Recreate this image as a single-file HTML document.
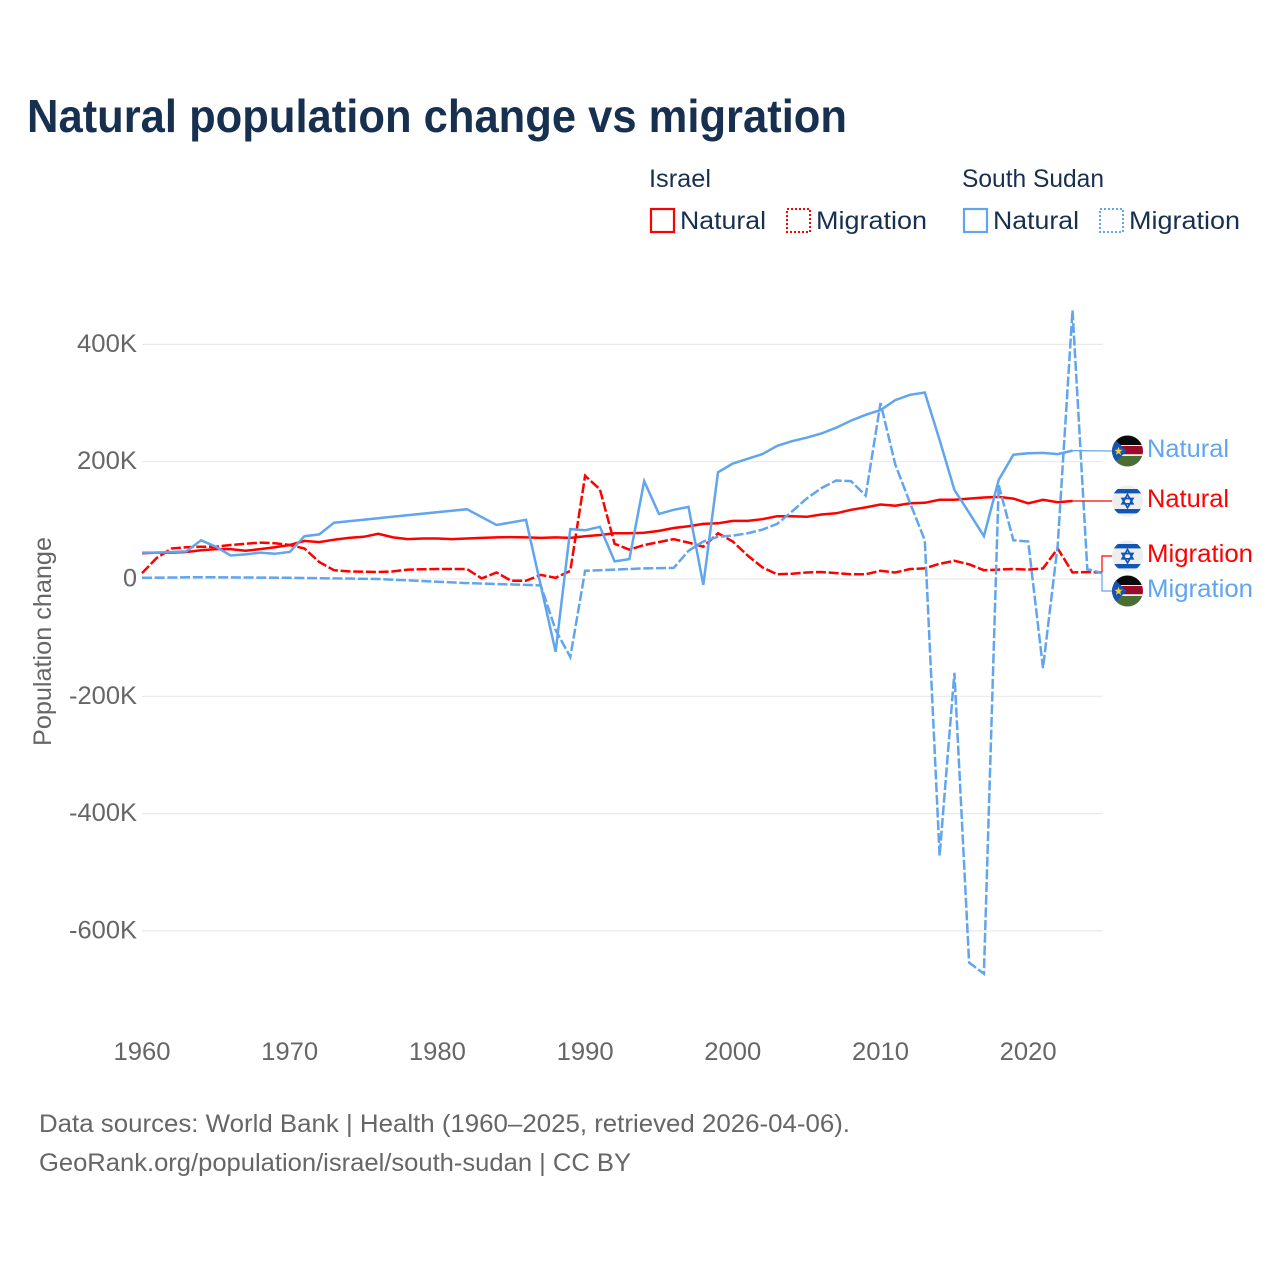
<!DOCTYPE html>
<html lang="en">
<head>
<meta charset="utf-8">
<title>Natural population change vs migration</title>
<style>
html,body{margin:0;padding:0;background:#fff;}
svg{display:block;font-family:"Liberation Sans",sans-serif;}
</style>
</head>
<body>
<svg id="chart" xmlns="http://www.w3.org/2000/svg" width="1280" height="1280" viewBox="0 0 1280 1280">
  <defs>
    <clipPath id="flag-clip"><circle cx="0" cy="0" r="15.5"/></clipPath>
    <g id="flag-il">
      <g clip-path="url(#flag-clip)">
        <rect x="-16" y="-16" width="32" height="32" fill="#eeeeee"/>
        <rect x="-16" y="-12" width="32" height="4.4" fill="#0f56b5"/>
        <rect x="-16" y="8" width="32" height="4.4" fill="#0f56b5"/>
        <polygon points="0,-6.5 5.4,2.8 -5.4,2.8" fill="none" stroke="#0f56b5" stroke-width="1.7"/>
        <polygon points="0,6.8 5.4,-2.5 -5.4,-2.5" fill="none" stroke="#0f56b5" stroke-width="1.7"/>
      </g>
    </g>
    <g id="flag-ss">
      <g clip-path="url(#flag-clip)">
        <rect x="-16" y="-16" width="32" height="10" fill="#0a0a0a"/>
        <rect x="-16" y="-6" width="32" height="11" fill="#eeeeee"/>
        <rect x="-16" y="-5" width="32" height="8.2" fill="#9c0a2c"/>
        <rect x="-16" y="5" width="32" height="11" fill="#4a6d33"/>
        <polygon points="-16,-15 -16,15 -1,0" fill="#0f56b5"/>
        <polygon points="-9,-4.2 -7.9,-1.2 -4.8,-1.2 -7.3,0.8 -6.4,3.9 -9,2.1 -11.6,3.9 -10.7,0.8 -13.2,-1.2 -10.1,-1.2" fill="#f2cf3d"/>
      </g>
    </g>
  </defs>

  <text x="27" y="132" font-size="46" font-weight="700" fill="#18304f" textLength="820" lengthAdjust="spacingAndGlyphs">Natural population change vs migration</text>

  <g font-size="25" fill="#18304f">
    <text x="649" y="187" textLength="62" lengthAdjust="spacingAndGlyphs">Israel</text>
    <text x="962" y="187" textLength="142" lengthAdjust="spacingAndGlyphs">South Sudan</text>

    <g>
      <rect x="651" y="209" width="23" height="23" fill="none" stroke="#ff0000" stroke-width="2.2"/>
      <text x="680" y="229" textLength="86" lengthAdjust="spacingAndGlyphs">Natural</text>
    </g>
    <g>
      <rect x="787" y="209" width="23" height="23" fill="none" stroke="#ff0000" stroke-width="2" stroke-dasharray="2 2"/>
      <text x="816" y="229" textLength="111" lengthAdjust="spacingAndGlyphs">Migration</text>
    </g>
    <g>
      <rect x="964" y="209" width="23" height="23" fill="none" stroke="#60a5ee" stroke-width="2.2"/>
      <text x="993" y="229" textLength="86" lengthAdjust="spacingAndGlyphs">Natural</text>
    </g>
    <g>
      <rect x="1100" y="209" width="23" height="23" fill="none" stroke="#60a5ee" stroke-width="2" stroke-dasharray="2 2"/>
      <text x="1129" y="229" textLength="111" lengthAdjust="spacingAndGlyphs">Migration</text>
    </g>
  </g>

  <g id="grid"></g>
  <g id="y-ticks"></g>
  <g id="x-ticks"></g>
  <text transform="translate(51,746) rotate(-90)" font-size="25" fill="#666666" textLength="209" lengthAdjust="spacingAndGlyphs">Population change</text>

  <g id="series"></g>
  <g id="end-labels"></g>

  <g font-size="25" fill="#666666">
    <text x="39" y="1132" textLength="811" lengthAdjust="spacingAndGlyphs">Data sources: World Bank | Health (1960–2025, retrieved 2026-04-06).</text>
    <text x="39" y="1171" textLength="592" lengthAdjust="spacingAndGlyphs">GeoRank.org/population/israel/south-sudan | CC BY</text>
  </g>
</svg>

<script>
var firstYear = 1960;
var yTickValues = [400, 200, 0, -200, -400, -600];
var yTickLabels = ["400K", "200K", "0", "-200K", "-400K", "-600K"];
var xTickValues = [1960, 1970, 1980, 1990, 2000, 2010, 2020];

/* Values in thousands, one entry per year from 1960 to 2025; null = no point */
var israelNatural = [44,45,45,46,49,51,51,48,51,54,58,65,63,67,70,72,77,71,68,69,69,68,69,70,71,71.5,71,70,71,70,73,75,78,78,79,82,87,90,94,95,99,99,102,107,107,106,110,112,118,122,127,125,129,130,135,135,137,139,140,137,129,135,131,133,null,null];
var israelMigration = [10,36,52,54,55,55,58,60,62,61,58,52,29,15,13,12.5,12,13,16,16.5,17,17,17,1,11,-3,-3,7,2,14,176,153,60,50,58,63,68,62,55,78,64,40,20,8,9,11,12,10,8,8,14,11,17,18,26,31,25,15,16,17,16,18,52,11,12,11];
var sudanNatural = [45,45,46,47,66,55,40,42,45,43,46,73,76,96,null,null,null,null,null,null,null,null,119,null,92,null,101,null,-124,85,83,89,30,34,167,111,118,123,-10,182,197,205,213,227,235,241,248,258,270,280,288,305,314,318,237,152,113,73,169,212,214.5,215,213,219,null,null];
var sudanMigration = [2,null,null,null,3,null,null,null,null,null,2,null,null,null,null,null,0,null,null,null,null,null,-7,null,null,null,-10,-11,-87,-133,14,15,16,17,18,18.5,19,48,64,72,74,78,84,94,115,137,155,168,167,142,300,195,130,66,-472,-160,-654,-673,160,66,64,-152,58,458,17,10];

var endLabelText = ["Natural", "Natural", "Migration", "Migration"];

var SVG_NS = "http://www.w3.org/2000/svg";
var RED = "#ff0000";
var BLUE = "#60a5ee";

function xScale(year) { return 142 + (year - firstYear) * 14.77; }
function yScale(value) { return 579 - value * 0.5865; }
function make(tag) { return document.createElementNS(SVG_NS, tag); }

function seriesPoints(values) {
  var pts = [];
  for (var i = 0; i < values.length; i++) {
    if (values[i] !== null) { pts.push([xScale(firstYear + i), yScale(values[i])]); }
  }
  return pts;
}
function pointsToPath(pts) {
  return pts.map(function (p, i) { return (i ? "L" : "M") + p[0].toFixed(1) + " " + p[1].toFixed(1); }).join(" ");
}

var gridGroup = document.getElementById("grid");
var yTickGroup = document.getElementById("y-ticks");
yTickValues.forEach(function (v, i) {
  var line = make("line");
  
  
  line.setAttribute("x1", 142);
  line.setAttribute("x2", 1103);
  line.setAttribute("y1", yScale(v));
  line.setAttribute("y2", yScale(v));
  line.setAttribute("stroke", "#e9e9e9");
  line.setAttribute("stroke-width", "1.2");
  gridGroup.appendChild(line);

  var label = make("text");
  
  
  var txt = yTickLabels[i];
  var w = txt === "0" ? 14 : (txt.charAt(0) === "-" ? 68 : 60);
  label.setAttribute("x", 137 - w);
  label.setAttribute("y", yScale(v) + 7.5);
  label.setAttribute("font-size", "25");
  label.setAttribute("fill", "#666666");
  label.setAttribute("textLength", w);
  label.setAttribute("lengthAdjust", "spacingAndGlyphs");
  label.textContent = txt;
  yTickGroup.appendChild(label);
});

var xTickGroup = document.getElementById("x-ticks");
xTickValues.forEach(function (year) {
  var label = make("text");
  
  
  label.setAttribute("x", xScale(year) - 28.5);
  label.setAttribute("y", 1060);
  label.setAttribute("font-size", "25");
  label.setAttribute("fill", "#666666");
  label.setAttribute("textLength", 57);
  label.setAttribute("lengthAdjust", "spacingAndGlyphs");
  label.textContent = String(year);
  xTickGroup.appendChild(label);
});

var seriesGroup = document.getElementById("series");
function drawSeries(values, color, dashed, name) {
  var path = make("path");
  
  
  path.setAttribute("d", pointsToPath(seriesPoints(values)));
  path.setAttribute("fill", "none");
  path.setAttribute("stroke", color);
  path.setAttribute("stroke-width", "2.5");
  path.setAttribute("stroke-linejoin", "miter");
  if (dashed) { path.setAttribute("stroke-dasharray", "10 2.7"); }
  seriesGroup.appendChild(path);
}
drawSeries(israelNatural, RED, false, "line-israel-natural");
drawSeries(israelMigration, RED, true, "line-israel-migration");
drawSeries(sudanNatural, BLUE, false, "line-south-sudan-natural");
drawSeries(sudanMigration, BLUE, true, "line-south-sudan-migration");

var labelGroup = document.getElementById("end-labels");
function drawEndLabel(values, color, flagId, labelY, text, name) {
  var pts = seriesPoints(values);
  var last = pts[pts.length - 1];
  var elbowX = 1102;
  var d = "M" + last[0].toFixed(1) + " " + last[1].toFixed(1);
  if (Math.abs(last[1] - labelY) > 2) {
    d += " L" + elbowX + " " + last[1].toFixed(1) + " L" + elbowX + " " + labelY;
  }
  d += " L1112 " + labelY;

  var connector = make("path");
  
  
  connector.setAttribute("d", d);
  connector.setAttribute("fill", "none");
  connector.setAttribute("stroke", color);
  connector.setAttribute("stroke-width", "1.2");
  labelGroup.appendChild(connector);

  var flag = make("use");
  
  
  flag.setAttribute("href", "#" + flagId);
  flag.setAttribute("transform", "translate(1127.5," + labelY + ")");
  labelGroup.appendChild(flag);

  var label = make("text");
  
  
  label.setAttribute("x", 1147);
  label.setAttribute("y", labelY + 6);
  label.setAttribute("font-size", "25");
  label.setAttribute("fill", color);
  label.setAttribute("textLength", text === "Natural" ? 82 : 106);
  label.setAttribute("lengthAdjust", "spacingAndGlyphs");
  label.textContent = text;
  labelGroup.appendChild(label);
}
drawEndLabel(sudanNatural, BLUE, "flag-ss", 451, endLabelText[0], "south-sudan-natural");
drawEndLabel(israelNatural, RED, "flag-il", 501, endLabelText[1], "israel-natural");
drawEndLabel(israelMigration, RED, "flag-il", 556, endLabelText[2], "israel-migration");
drawEndLabel(sudanMigration, BLUE, "flag-ss", 591, endLabelText[3], "south-sudan-migration");
</script>
</body>
</html>
